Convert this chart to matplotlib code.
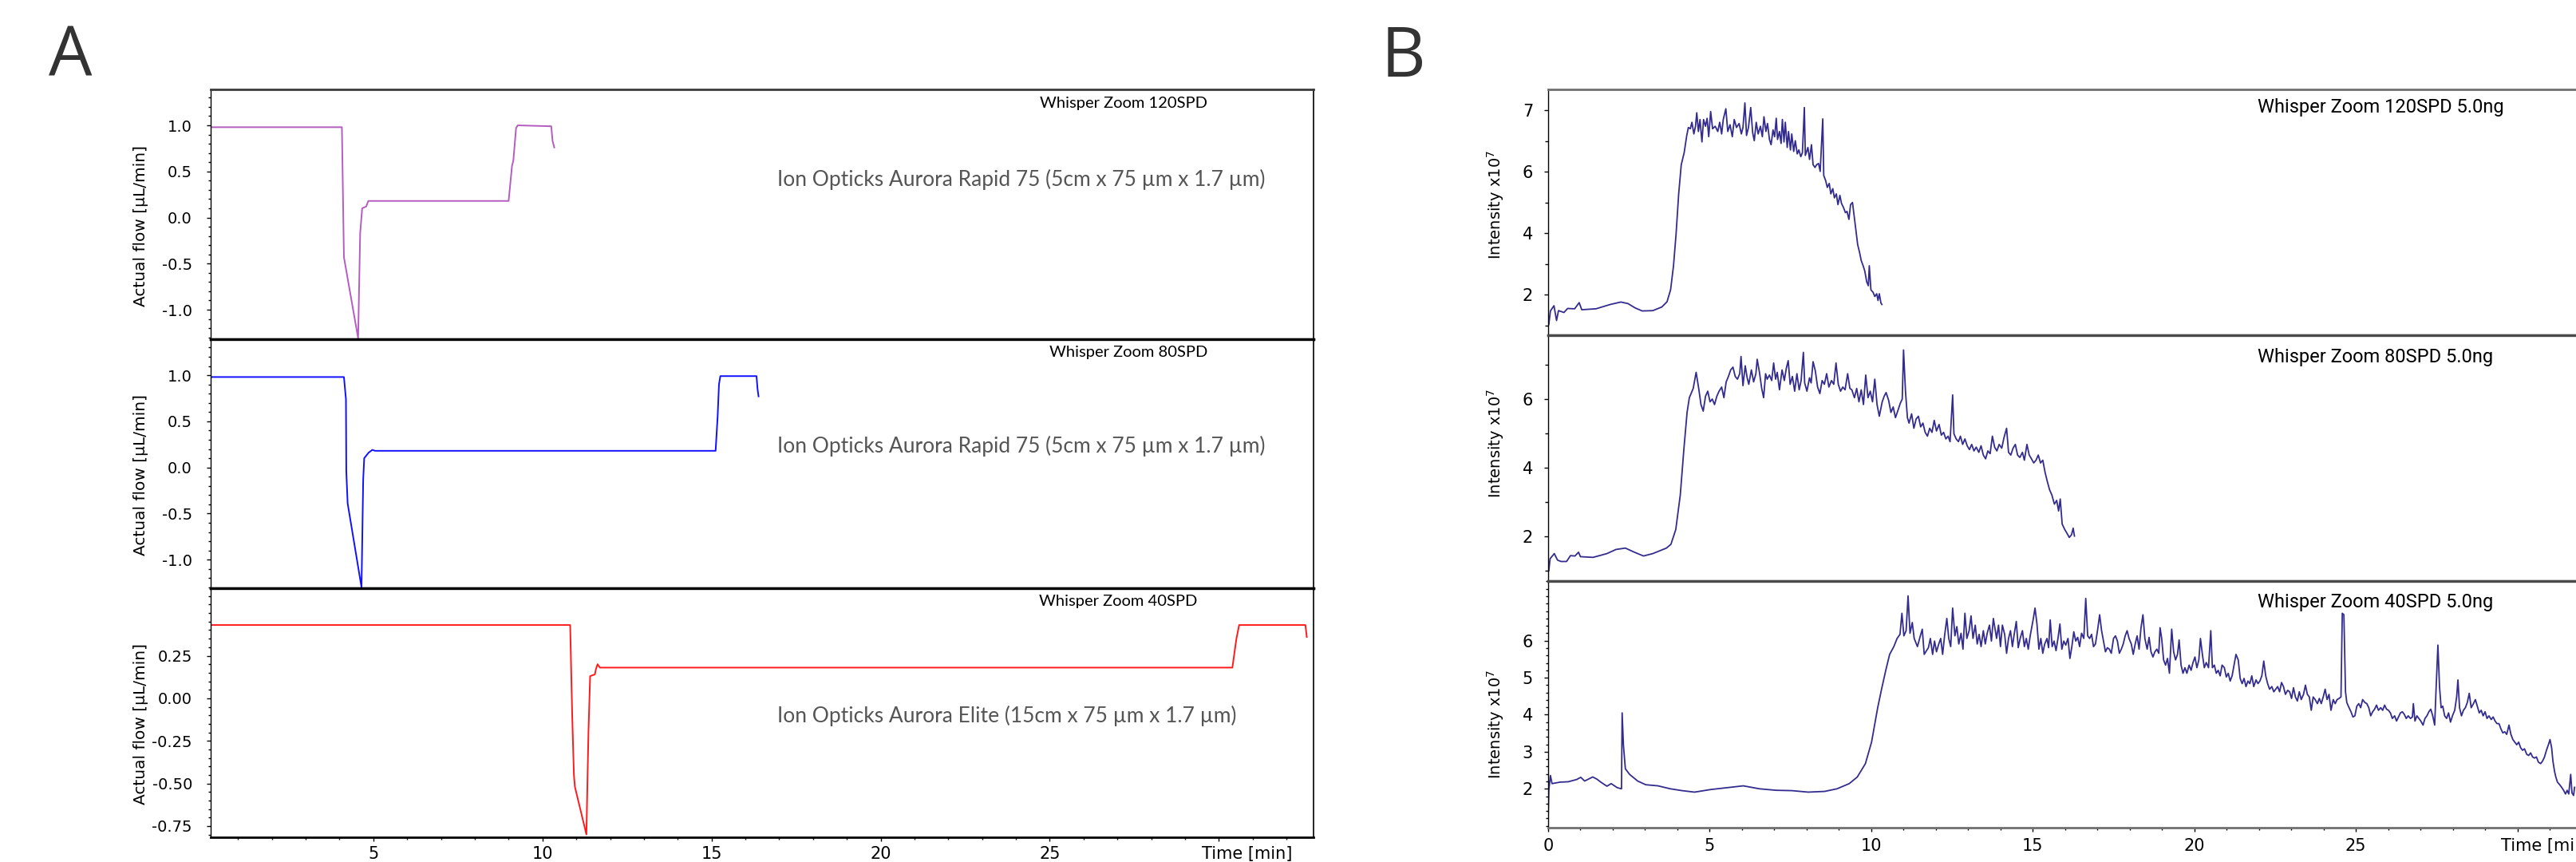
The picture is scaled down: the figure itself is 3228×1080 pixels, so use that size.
import matplotlib
matplotlib.use("Agg")
import matplotlib.pyplot as plt
import numpy as np
from matplotlib.ticker import MultipleLocator, FixedLocator, FixedFormatter

# ---------------- data ----------------
# A: actual flow, (time [min], flow [uL/min])
flow_120 = [(0.0, 0.98), (4.07, 0.98), (4.13, -0.43), (4.55, -1.31), (4.61, -0.17),
            (4.67, 0.10), (4.79, 0.12), (4.85, 0.18), (9.00, 0.18), (9.10, 0.56),
            (9.14, 0.62), (9.22, 0.97), (9.27, 1.00), (10.26, 0.99), (10.30, 0.83),
            (10.35, 0.76)]
flow_80 = [(0.0, 0.98), (4.13, 0.98), (4.19, 0.74), (4.20, -0.04), (4.24, -0.39),
           (4.65, -1.30), (4.70, -0.13), (4.73, 0.10), (4.86, 0.16), (4.97, 0.19),
           (5.05, 0.18), (15.12, 0.18), (15.18, 0.55), (15.22, 0.90), (15.26, 0.99),
           (16.33, 0.99), (16.36, 0.85), (16.39, 0.77)]
flow_40 = [(0.0, 0.43), (10.82, 0.43), (10.88, -0.10), (10.93, -0.45), (10.96, -0.52),
           (11.30, -0.80), (11.36, -0.20), (11.41, 0.13), (11.55, 0.14), (11.58, 0.17),
           (11.63, 0.20), (11.70, 0.18), (30.40, 0.18), (30.52, 0.35), (30.60, 0.43),
           (32.56, 0.43), (32.60, 0.36)]

# B: intensity (time [min], intensity x10^7)
bpi_120 = [(0.02, 1.03), (0.07, 1.47), (0.18, 1.64), (0.26, 1.16), (0.32, 1.48), (0.49, 1.42),
           (0.60, 1.55), (0.82, 1.54), (0.96, 1.74), (1.04, 1.51), (1.48, 1.54), (1.92, 1.68),
           (2.25, 1.76), (2.47, 1.71), (2.69, 1.57), (2.91, 1.47), (3.24, 1.48), (3.52, 1.60),
           (3.68, 1.77), (3.79, 2.16), (3.88, 2.94), (3.96, 3.98), (4.04, 5.28), (4.12, 6.23),
           (4.21, 6.62), (4.29, 7.18), (4.34, 7.44), (4.40, 7.40), (4.45, 7.61), (4.51, 7.23),
           (4.56, 7.48), (4.60, 7.92), (4.65, 7.31), (4.70, 7.70), (4.76, 6.97), (4.81, 7.70),
           (4.87, 7.48), (4.92, 7.74), (4.97, 7.14), (5.03, 7.96), (5.09, 7.40), (5.17, 7.48),
           (5.25, 7.31), (5.31, 7.61), (5.37, 7.23), (5.42, 7.70), (5.50, 8.05), (5.56, 7.31),
           (5.63, 7.53), (5.70, 7.14), (5.76, 7.70), (5.83, 7.44), (5.91, 7.57), (5.98, 7.23),
           (6.03, 7.44), (6.09, 8.24), (6.14, 7.18), (6.20, 7.44), (6.27, 8.09), (6.33, 7.27),
           (6.38, 7.01), (6.44, 7.61), (6.50, 7.23), (6.57, 7.48), (6.63, 7.14), (6.68, 7.79),
           (6.74, 7.31), (6.79, 7.57), (6.85, 7.05), (6.90, 6.88), (6.96, 7.36), (7.01, 7.14),
           (7.06, 7.74), (7.10, 7.05), (7.16, 7.31), (7.21, 6.92), (7.25, 7.70), (7.30, 6.97),
           (7.34, 7.61), (7.40, 6.79), (7.44, 7.31), (7.50, 6.71), (7.54, 7.23), (7.60, 6.66),
           (7.65, 7.01), (7.71, 6.58), (7.76, 6.71), (7.82, 6.49), (7.87, 6.62), (7.93, 8.09),
           (7.96, 6.53), (8.04, 6.79), (8.09, 6.40), (8.15, 6.88), (8.20, 6.23), (8.26, 6.14),
           (8.31, 6.23), (8.37, 6.27), (8.42, 6.01), (8.50, 7.72), (8.53, 5.88), (8.59, 5.71),
           (8.64, 5.49), (8.70, 5.62), (8.75, 5.28), (8.81, 5.45), (8.86, 5.15), (8.92, 5.28),
           (8.97, 4.93), (9.03, 5.23), (9.08, 4.97), (9.14, 4.84), (9.20, 4.67), (9.25, 4.71),
           (9.31, 4.45), (9.36, 4.93), (9.42, 5.00), (9.47, 4.58), (9.53, 4.06), (9.58, 3.63),
           (9.64, 3.37), (9.69, 3.11), (9.75, 2.94), (9.80, 2.77), (9.86, 2.42), (9.91, 2.29),
           (9.94, 2.94), (9.99, 2.16), (10.06, 2.07), (10.11, 1.94), (10.17, 2.03), (10.21, 1.81),
           (10.25, 2.03), (10.30, 1.73), (10.33, 1.68)]

bpi_80 = [(0.02, 1.00), (0.06, 1.35), (0.19, 1.50), (0.29, 1.31), (0.40, 1.27), (0.57, 1.27),
          (0.69, 1.44), (0.83, 1.43), (0.94, 1.54), (1.00, 1.41), (1.39, 1.39), (1.82, 1.50),
          (2.10, 1.62), (2.39, 1.66), (2.67, 1.54), (2.95, 1.43), (3.24, 1.50), (3.66, 1.66),
          (3.80, 1.77), (3.95, 2.20), (4.09, 3.21), (4.20, 4.53), (4.30, 5.61), (4.37, 6.04),
          (4.49, 6.31), (4.58, 6.78), (4.66, 6.31), (4.73, 5.84), (4.80, 5.65), (4.87, 6.08),
          (4.94, 6.23), (5.01, 5.92), (5.08, 6.00), (5.15, 5.84), (5.22, 6.08), (5.29, 6.23),
          (5.37, 6.35), (5.44, 6.04), (5.51, 6.50), (5.58, 6.66), (5.65, 6.85), (5.72, 6.93),
          (5.79, 6.66), (5.86, 6.58), (5.93, 6.74), (5.97, 7.24), (6.03, 6.39), (6.10, 6.97),
          (6.16, 6.62), (6.21, 6.43), (6.29, 6.85), (6.36, 6.50), (6.43, 6.74), (6.47, 7.16),
          (6.54, 6.78), (6.61, 6.31), (6.67, 6.04), (6.73, 6.74), (6.78, 6.58), (6.85, 6.70),
          (6.92, 6.54), (6.98, 7.05), (7.04, 6.58), (7.09, 6.78), (7.16, 6.27), (7.24, 6.85),
          (7.31, 6.54), (7.37, 6.89), (7.43, 7.12), (7.49, 6.43), (7.56, 6.66), (7.63, 6.23),
          (7.70, 6.74), (7.77, 6.27), (7.83, 6.54), (7.90, 7.36), (7.94, 6.47), (8.01, 6.23),
          (8.09, 6.62), (8.14, 6.47), (8.20, 7.09), (8.27, 6.82), (8.34, 6.35), (8.41, 6.16),
          (8.48, 6.54), (8.55, 6.43), (8.62, 6.74), (8.69, 6.35), (8.77, 6.54), (8.84, 6.43),
          (8.91, 7.05), (8.98, 6.43), (9.05, 6.23), (9.12, 6.35), (9.19, 6.27), (9.27, 6.74),
          (9.34, 6.31), (9.40, 6.27), (9.48, 6.04), (9.55, 6.31), (9.62, 5.92), (9.69, 6.27),
          (9.76, 5.84), (9.83, 6.70), (9.90, 6.04), (9.97, 6.23), (10.04, 5.92), (10.11, 6.58),
          (10.18, 5.84), (10.25, 5.50), (10.34, 5.92), (10.40, 6.08), (10.46, 6.19), (10.54, 5.96),
          (10.61, 5.61), (10.68, 5.77), (10.75, 5.46), (10.82, 5.65), (10.90, 5.88), (10.96, 6.00),
          (11.00, 7.43), (11.06, 6.23), (11.12, 5.46), (11.17, 5.30), (11.25, 5.57), (11.32, 5.15),
          (11.39, 5.42), (11.46, 5.50), (11.53, 5.19), (11.60, 5.30), (11.67, 5.03), (11.74, 4.92),
          (11.81, 5.15), (11.88, 5.03), (11.95, 5.38), (12.02, 5.07), (12.10, 5.26), (12.17, 4.95),
          (12.24, 5.03), (12.31, 4.84), (12.38, 4.92), (12.44, 4.76), (12.52, 6.12), (12.56, 4.99),
          (12.63, 4.84), (12.70, 4.76), (12.76, 4.92), (12.83, 4.68), (12.90, 4.84), (12.97, 4.64),
          (13.04, 4.53), (13.11, 4.68), (13.18, 4.49), (13.25, 4.60), (13.33, 4.45), (13.40, 4.64),
          (13.47, 4.37), (13.54, 4.26), (13.61, 4.49), (13.68, 4.41), (13.75, 4.92), (13.82, 4.60),
          (13.89, 4.49), (13.96, 4.68), (14.04, 4.57), (14.11, 4.88), (14.19, 5.15), (14.25, 4.45),
          (14.32, 4.37), (14.39, 4.57), (14.46, 4.68), (14.53, 4.37), (14.60, 4.30), (14.68, 4.45),
          (14.74, 4.22), (14.82, 4.68), (14.89, 4.37), (14.96, 4.26), (15.03, 4.14), (15.10, 4.22),
          (15.17, 4.37), (15.24, 4.14), (15.31, 4.22), (15.38, 3.87), (15.45, 3.60), (15.52, 3.36),
          (15.59, 3.21), (15.67, 2.94), (15.74, 3.05), (15.80, 2.74), (15.85, 3.09), (15.91, 2.36),
          (15.99, 2.20), (16.06, 2.09), (16.13, 1.97), (16.20, 2.05), (16.25, 2.24), (16.29, 2.01)]

bpi_40 = [(0.00, 1.21), (0.02, 1.96), (0.07, 2.36), (0.12, 2.14), (0.37, 2.18), (0.62, 2.19),
          (0.88, 2.25), (1.01, 2.31), (1.13, 2.21), (1.38, 2.32), (1.51, 2.26), (1.63, 2.18),
          (1.82, 2.07), (1.95, 2.14), (2.14, 2.03), (2.27, 2.00), (2.29, 4.05), (2.33, 3.18),
          (2.39, 2.54), (2.52, 2.39), (2.77, 2.21), (3.02, 2.11), (3.40, 2.08), (3.78, 2.00),
          (4.15, 1.95), (4.53, 1.91), (5.03, 1.98), (5.54, 2.03), (6.04, 2.08), (6.54, 2.00),
          (7.05, 1.96), (7.55, 1.95), (8.05, 1.91), (8.56, 1.93), (8.94, 2.00), (9.32, 2.14),
          (9.57, 2.32), (9.82, 2.68), (10.01, 3.26), (10.20, 4.19), (10.32, 4.69), (10.45, 5.20),
          (10.57, 5.63), (10.70, 5.84), (10.80, 6.06), (10.89, 6.17), (10.95, 6.74), (11.01, 6.13),
          (11.08, 6.27), (11.14, 7.21), (11.20, 6.20), (11.27, 6.49), (11.33, 6.06), (11.43, 5.84),
          (11.52, 6.13), (11.58, 6.31), (11.64, 5.63), (11.71, 5.73), (11.77, 5.81), (11.83, 6.06),
          (11.90, 5.63), (11.96, 5.99), (12.02, 5.70), (12.09, 5.91), (12.15, 6.06), (12.21, 5.63),
          (12.27, 6.13), (12.34, 6.60), (12.40, 6.06), (12.46, 5.84), (12.52, 6.88), (12.59, 6.13),
          (12.65, 6.38), (12.71, 5.91), (12.78, 6.20), (12.84, 5.77), (12.90, 6.74), (12.96, 6.06),
          (13.03, 6.27), (13.09, 6.67), (13.15, 6.06), (13.22, 6.42), (13.28, 5.91), (13.34, 6.17),
          (13.40, 5.84), (13.47, 6.27), (13.53, 5.91), (13.59, 6.20), (13.66, 6.42), (13.72, 5.99),
          (13.78, 6.60), (13.88, 6.06), (13.94, 6.42), (14.00, 5.84), (14.06, 6.42), (14.13, 6.17),
          (14.19, 5.66), (14.25, 6.06), (14.31, 6.27), (14.37, 5.84), (14.43, 6.20), (14.49, 6.52),
          (14.55, 5.81), (14.61, 6.06), (14.68, 6.27), (14.74, 5.84), (14.80, 6.06), (14.86, 5.77),
          (14.92, 6.13), (15.01, 6.56), (15.07, 6.88), (15.13, 6.45), (15.19, 5.77), (15.25, 6.06),
          (15.31, 5.66), (15.37, 5.91), (15.44, 6.06), (15.49, 5.81), (15.54, 6.56), (15.60, 5.84),
          (15.66, 5.99), (15.72, 5.73), (15.78, 6.06), (15.84, 6.45), (15.90, 5.77), (15.96, 5.99),
          (16.02, 5.88), (16.09, 6.06), (16.15, 5.52), (16.21, 5.84), (16.27, 6.24), (16.33, 5.99),
          (16.39, 6.09), (16.45, 5.84), (16.51, 6.20), (16.58, 6.06), (16.64, 7.14), (16.70, 6.13),
          (16.76, 6.06), (16.82, 6.17), (16.88, 5.84), (16.94, 5.91), (17.01, 6.31), (17.07, 6.70),
          (17.13, 6.27), (17.19, 5.99), (17.25, 5.70), (17.31, 5.81), (17.37, 5.77), (17.43, 5.66),
          (17.50, 6.06), (17.56, 6.13), (17.62, 5.99), (17.68, 5.66), (17.74, 5.77), (17.80, 5.91),
          (17.86, 6.13), (17.92, 6.27), (17.98, 6.06), (18.05, 5.91), (18.11, 5.63), (18.17, 5.91),
          (18.23, 6.13), (18.29, 5.77), (18.35, 6.35), (18.41, 6.70), (18.47, 6.06), (18.54, 5.77),
          (18.60, 6.09), (18.66, 5.70), (18.72, 5.56), (18.78, 5.70), (18.84, 5.77), (18.90, 5.66),
          (18.94, 6.35), (18.99, 6.06), (19.05, 5.48), (19.11, 5.34), (19.17, 5.52), (19.23, 5.12),
          (19.30, 6.31), (19.36, 5.70), (19.42, 5.48), (19.48, 5.63), (19.53, 6.02), (19.59, 5.34),
          (19.65, 5.12), (19.71, 5.27), (19.77, 5.12), (19.84, 5.34), (19.90, 5.20), (19.96, 5.41),
          (20.02, 5.56), (20.08, 5.27), (20.14, 5.48), (20.19, 6.06), (20.25, 5.63), (20.31, 5.27),
          (20.37, 5.41), (20.44, 5.27), (20.51, 6.27), (20.56, 5.27), (20.62, 5.34), (20.68, 5.12),
          (20.74, 5.20), (20.80, 5.05), (20.86, 5.34), (20.93, 5.27), (20.99, 5.02), (21.05, 5.12),
          (21.11, 4.91), (21.17, 5.05), (21.23, 5.34), (21.29, 5.63), (21.36, 5.48), (21.42, 4.98),
          (21.48, 4.84), (21.54, 4.98), (21.60, 4.76), (21.66, 4.91), (21.72, 4.84), (21.78, 5.05),
          (21.84, 4.76), (21.91, 4.94), (21.97, 4.84), (22.03, 4.91), (22.09, 5.05), (22.15, 5.45),
          (22.21, 5.05), (22.27, 4.84), (22.33, 4.69), (22.40, 4.76), (22.46, 4.62), (22.52, 4.69),
          (22.58, 4.76), (22.64, 4.62), (22.70, 4.87), (22.76, 4.76), (22.82, 4.55), (22.89, 4.66),
          (22.95, 4.62), (23.01, 4.44), (23.07, 4.73), (23.13, 4.48), (23.19, 4.37), (23.25, 4.62),
          (23.31, 4.41), (23.38, 4.55), (23.44, 4.80), (23.50, 4.55), (23.56, 4.48), (23.62, 4.12),
          (23.68, 4.48), (23.74, 4.41), (23.81, 4.30), (23.87, 4.44), (23.93, 4.30), (23.99, 4.48),
          (24.05, 4.69), (24.11, 4.41), (24.17, 4.55), (24.23, 4.12), (24.30, 4.41), (24.36, 4.30),
          (24.42, 4.41), (24.48, 4.44), (24.54, 4.48), (24.58, 6.74), (24.63, 6.70), (24.68, 4.62),
          (24.72, 4.33), (24.79, 4.19), (24.85, 4.08), (24.91, 3.94), (24.97, 3.97), (25.03, 4.23),
          (25.09, 4.30), (25.15, 4.19), (25.21, 4.41), (25.28, 4.33), (25.34, 4.30), (25.40, 4.19),
          (25.46, 3.97), (25.52, 4.08), (25.58, 4.15), (25.64, 4.26), (25.70, 4.12), (25.77, 4.19),
          (25.83, 4.12), (25.89, 4.26), (25.95, 4.15), (26.01, 4.12), (26.07, 4.05), (26.13, 3.90),
          (26.20, 3.97), (26.26, 3.83), (26.32, 3.94), (26.38, 4.05), (26.44, 4.08), (26.50, 4.01),
          (26.56, 3.90), (26.62, 3.97), (26.69, 3.90), (26.75, 3.94), (26.78, 4.30), (26.83, 3.83),
          (26.89, 3.97), (26.95, 3.90), (27.01, 3.83), (27.08, 3.72), (27.14, 3.90), (27.20, 3.97),
          (27.26, 4.08), (27.32, 4.15), (27.38, 3.97), (27.44, 3.72), (27.48, 4.62), (27.54, 5.88),
          (27.59, 4.76), (27.64, 4.19), (27.69, 4.23), (27.75, 3.97), (27.81, 3.90), (27.87, 4.05),
          (27.93, 3.80), (27.99, 3.97), (28.06, 4.12), (28.12, 4.48), (28.16, 4.94), (28.21, 4.19),
          (28.27, 3.97), (28.33, 4.12), (28.39, 4.19), (28.45, 4.33), (28.51, 4.58), (28.57, 4.19),
          (28.64, 4.30), (28.70, 4.41), (28.76, 4.23), (28.82, 4.05), (28.88, 4.12), (28.94, 3.97),
          (29.00, 4.08), (29.06, 3.90), (29.12, 3.97), (29.19, 3.87), (29.25, 3.94), (29.31, 3.83),
          (29.37, 3.76), (29.43, 3.76), (29.49, 3.62), (29.55, 3.51), (29.61, 3.54), (29.67, 3.47),
          (29.74, 3.72), (29.80, 3.47), (29.86, 3.33), (29.92, 3.26), (29.98, 3.19), (30.04, 3.26),
          (30.10, 3.11), (30.16, 3.04), (30.22, 3.08), (30.29, 2.93), (30.35, 2.90), (30.41, 2.97),
          (30.47, 2.86), (30.53, 2.83), (30.59, 2.86), (30.65, 2.72), (30.72, 2.68), (30.78, 2.75),
          (30.84, 2.86), (30.90, 3.04), (30.96, 3.19), (31.01, 3.33), (31.06, 3.11), (31.10, 2.75),
          (31.15, 2.47), (31.19, 2.32), (31.24, 2.18), (31.31, 2.11), (31.37, 2.04), (31.43, 1.96),
          (31.49, 1.86), (31.54, 1.96), (31.59, 1.86), (31.65, 2.39), (31.69, 1.89), (31.74, 1.82),
          (31.77, 2.04)]

flow_names = ['Whisper Zoom 120SPD', 'Whisper Zoom 80SPD', 'Whisper Zoom 40SPD']
column_names = ['Ion Opticks Aurora Rapid 75 (5cm x 75 µm x 1.7 µm)',
                'Ion Opticks Aurora Rapid 75 (5cm x 75 µm x 1.7 µm)',
                'Ion Opticks Aurora Elite (15cm x 75 µm x 1.7 µm)']
bpi_names = ['Whisper Zoom 120SPD 5.0ng', 'Whisper Zoom 80SPD 5.0ng', 'Whisper Zoom 40SPD 5.0ng']

flow_yticks = [[-1.0, -0.5, 0.0, 0.5, 1.0], [-1.0, -0.5, 0.0, 0.5, 1.0],
               [-0.75, -0.5, -0.25, 0.0, 0.25]]
flow_ylabels = [['-1.0', '-0.5', '0.0', '0.5', '1.0'], ['-1.0', '-0.5', '0.0', '0.5', '1.0'],
                ['-0.75', '-0.50', '-0.25', '0.00', '0.25']]
bpi_yticks = [[2, 4, 6, 8], [2, 4, 6], [2, 3, 4, 5, 6]]
bpi_ylabels = [['2', '4', '6', '7'], ['2', '4', '6'], ['2', '3', '4', '5', '6']]
a_xticks = [5, 10, 15, 20, 25, 30]
a_xlabels = ['5', '10', '15', '20', '25', '']
b_xticks = [0, 5, 10, 15, 20, 25, 30]
b_xlabels = ['0', '5', '10', '15', '20', '25', '']

# ---------------- layout ----------------
W, H = 3228, 1080
fig = plt.figure(figsize=(W / 100, H / 100), dpi=100)


def px_box(left, top, right, bottom):
    return [left / W, 1 - bottom / H, (right - left) / W, (bottom - top) / H]


a_rows = [(112, 425), (425, 737), (737, 1049)]
b_rows = [(112, 420), (420, 728), (728, 1037)]
a_ylims = [(-1.32, 1.39), (-1.31, 1.39), (-0.816, 0.646)]
b_ylims = [(0.68, 8.68), (0.70, 7.86), (0.95, 7.61)]
flow_colors = ['#b45cc0', '#1010ff', '#ff1a1a']
bpi_color = '#332c8e'
b_label_y = [0.53, 0.56, 0.42]

flows = [flow_120, flow_80, flow_40]
bpis = [bpi_120, bpi_80, bpi_40]

# ---- panel A ----
for i, (top, bottom) in enumerate(a_rows):
    ax = fig.add_axes(px_box(264, top, 1646, bottom))
    t, v = np.array(flows[i]).T
    ax.plot(t, v, color=flow_colors[i], lw=1.4)
    ax.set_xlim(0.19, 32.8)
    ax.set_ylim(*a_ylims[i])

    ax.spines['left'].set_linewidth(1.0)
    ax.spines['right'].set_linewidth(1.2)
    ax.spines['top'].set_linewidth(2.4 if i else 2.0)
    ax.spines['top'].set_color('black' if i else '#3a3a3a')
    ax.spines['bottom'].set_linewidth(2.4 if i < 2 else 2.0)

    ax.yaxis.set_major_locator(FixedLocator(flow_yticks[i]))
    ax.yaxis.set_major_formatter(FixedFormatter(flow_ylabels[i]))
    ax.yaxis.set_minor_locator(MultipleLocator(0.1 if i < 2 else 0.05))
    ax.tick_params(axis='y', which='major', direction='out', length=3.6, width=1,
                   labelsize=14, pad=13)
    ax.tick_params(axis='y', which='minor', direction='out', length=2.2, width=1)

    if i < 2:
        ax.tick_params(axis='x', which='both', bottom=False, labelbottom=False)
    else:
        ax.xaxis.set_major_locator(FixedLocator(a_xticks))
        ax.xaxis.set_major_formatter(FixedFormatter(a_xlabels))
        ax.xaxis.set_minor_locator(MultipleLocator(1))
        ax.tick_params(axis='x', which='major', direction='out', length=3.6, width=1,
                       labelsize=15, pad=4)
        ax.tick_params(axis='x', which='minor', direction='out', length=2.2, width=1)
        ax.annotate('Time [min]', xy=(29.5, 0), xycoords=('data', 'axes fraction'),
                    xytext=(0, -8), textcoords='offset points', ha='left', va='top',
                    fontsize=15, annotation_clip=False)

    ax.set_ylabel('Actual flow [µL/min]', fontsize=14.5)
    ax.yaxis.set_label_coords(-0.0565, 0.455)

# ---- panel B ----
for i, (top, bottom) in enumerate(b_rows):
    ax = fig.add_axes(px_box(1940, top, 3276, bottom))
    t, v = np.array(bpis[i]).T
    ax.plot(t, v, color=bpi_color, lw=1.3)
    ax.set_xlim(0, 33)
    ax.set_ylim(*b_ylims[i])

    ax.spines['left'].set_linewidth(1.0)
    ax.spines['right'].set_visible(False)
    ax.spines['top'].set_linewidth(2.4 if i else 2.0)
    ax.spines['top'].set_color('#4a4a4a' if i else '#707070')
    ax.spines['bottom'].set_linewidth(2.4 if i < 2 else 2.0)
    ax.spines['bottom'].set_color('#4a4a4a' if i < 2 else '#707070')

    ax.yaxis.set_major_locator(FixedLocator(bpi_yticks[i]))
    ax.yaxis.set_major_formatter(FixedFormatter(bpi_ylabels[i]))
    ax.yaxis.set_minor_locator(MultipleLocator(1 if i < 2 else 0.2))
    ax.tick_params(axis='y', which='major', direction='out', length=3.6, width=1,
                   labelsize=15, pad=10)
    ax.tick_params(axis='y', which='minor', direction='out', length=3.0 if i < 2 else 2.2,
                   width=1)

    if i < 2:
        ax.tick_params(axis='x', which='both', bottom=False, labelbottom=False)
    else:
        ax.xaxis.set_major_locator(FixedLocator(b_xticks))
        ax.xaxis.set_major_formatter(FixedFormatter(b_xlabels))
        ax.xaxis.set_minor_locator(MultipleLocator(1))
        ax.tick_params(axis='x', which='major', direction='out', length=3.6, width=1,
                       labelsize=15, pad=6)
        ax.tick_params(axis='x', which='minor', direction='out', length=2.2, width=1)
        ax.annotate('Time [min]', xy=(29.5, 0), xycoords=('data', 'axes fraction'),
                    xytext=(0, -9.5), textcoords='offset points', ha='left', va='top',
                    fontsize=15, annotation_clip=False)

    ax.set_ylabel('Intensity x10$^7$', fontsize=14)
    ax.yaxis.set_label_coords(-0.0395, b_label_y[i])

# ---- annotations ----
for name, y in zip(flow_names, [129, 442, 754]):
    x = 1513 if '40' not in name else 1500
    fig.text(x / W, 1 - y / H, name, ha='right', va='center', fontsize=14.5,
             family=['Lato', 'DejaVu Sans'])
for name, y in zip(column_names, [225, 559, 897]):
    fig.text(974 / W, 1 - y / H, name, ha='left', va='center', fontsize=19,
             color='#555555', family=['Lato', 'DejaVu Sans'])
for name, y in zip(bpi_names, [135, 448, 754]):
    fig.text(2829 / W, 1 - y / H, name, ha='left', va='center', fontsize=17,
             family=['Roboto', 'DejaVu Sans'])

fig.text(61 / W, 1 - 30 / H, 'A', ha='left', va='top', fontsize=62, color='#333333',
         family=['Open Sans', 'DejaVu Sans'])
fig.text(1731 / W, 1 - 30 / H, 'B', ha='left', va='top', fontsize=62, color='#333333',
         family=['Open Sans', 'DejaVu Sans'])

fig.savefig('out.png', dpi=100)
